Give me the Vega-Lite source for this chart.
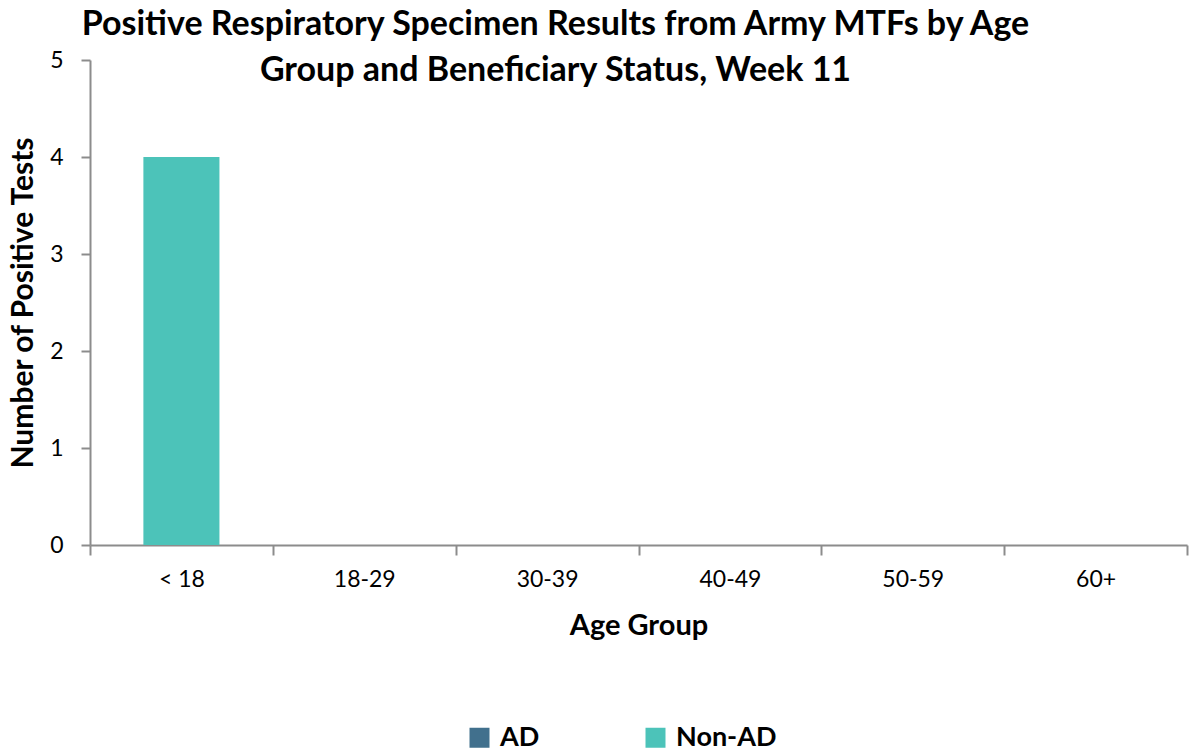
{
  "$schema": "https://vega.github.io/schema/vega-lite/v6.json",
  "width": 1097,
  "height": 485,
  "autosize": {"type": "none"},
  "padding": {"left": 90, "top": 60, "right": 6, "bottom": 210},
  "background": "white",
  "config": {
    "font": "Lato",
    "view": {"stroke": null}
  },
  "title": {
    "text": ["Positive Respiratory Specimen Results from Army MTFs by Age", "Group and Beneficiary Status, Week 11"],
    "font": "Lato",
    "fontSize": 34,
    "fontWeight": "bold",
    "color": "black",
    "anchor": "middle",
    "frame": "group",
    "dx": -83,
    "lineHeight": 46,
    "baseline": "alphabetic",
    "offset": -66
  },
  "data": {
    "values": [
      {"age": "< 18", "status": "AD", "count": 0},
      {"age": "< 18", "status": "Non-AD", "count": 4},
      {"age": "18-29", "status": "AD", "count": 0},
      {"age": "18-29", "status": "Non-AD", "count": 0},
      {"age": "30-39", "status": "AD", "count": 0},
      {"age": "30-39", "status": "Non-AD", "count": 0},
      {"age": "40-49", "status": "AD", "count": 0},
      {"age": "40-49", "status": "Non-AD", "count": 0},
      {"age": "50-59", "status": "AD", "count": 0},
      {"age": "50-59", "status": "Non-AD", "count": 0},
      {"age": "60+", "status": "AD", "count": 0},
      {"age": "60+", "status": "Non-AD", "count": 0}
    ]
  },
  "mark": {"type": "bar", "width": {"band": 0.416}},
  "encoding": {
    "x": {
      "field": "age",
      "type": "nominal",
      "sort": ["< 18", "18-29", "30-39", "40-49", "50-59", "60+"],
      "scale": {"paddingInner": 0, "paddingOuter": 0},
      "axis": {
        "title": "Age Group",
        "titleFont": "Lato",
        "titleFontSize": 29,
        "titleFontWeight": "bold",
        "titleColor": "black",
        "titlePadding": 20,
        "labelAngle": 0,
        "labelFont": "Lato",
        "labelFontSize": 23,
        "labelColor": "black",
        "labelPadding": 13,
        "tickBand": "extent",
        "tickSize": 10,
        "tickColor": "#8c8c8c",
        "tickWidth": 2,
        "domainColor": "#8c8c8c",
        "domainWidth": 2,
        "grid": false
      }
    },
    "y": {
      "field": "count",
      "type": "quantitative",
      "stack": "zero",
      "scale": {"domain": [0, 5], "nice": false},
      "axis": {
        "title": "Number of Positive Tests",
        "titleFont": "Lato",
        "titleFontSize": 30,
        "titleFontWeight": "bold",
        "titleColor": "black",
        "titlePadding": 11,
        "values": [0, 1, 2, 3, 4, 5],
        "labelFont": "Lato",
        "labelFontSize": 23,
        "labelColor": "black",
        "labelPadding": 18,
        "tickSize": 9,
        "tickColor": "#8c8c8c",
        "tickWidth": 2,
        "domainColor": "#8c8c8c",
        "domainWidth": 2,
        "grid": false
      }
    },
    "color": {
      "field": "status",
      "type": "nominal",
      "scale": {"domain": ["AD", "Non-AD"], "range": ["#41708d", "#4cc3b9"]},
      "legend": {
        "title": null,
        "orient": "none",
        "legendX": 376,
        "legendY": 664,
        "direction": "horizontal",
        "symbolType": "square",
        "symbolSize": 400,
        "symbolStrokeWidth": 0,
        "symbolOpacity": 1,
        "labelFont": "Lato",
        "labelFontSize": 27,
        "labelFontWeight": "bold",
        "labelColor": "black",
        "labelOffset": 7,
        "columnPadding": 102
      }
    },
    "order": {"field": "status", "sort": "ascending"}
  }
}
